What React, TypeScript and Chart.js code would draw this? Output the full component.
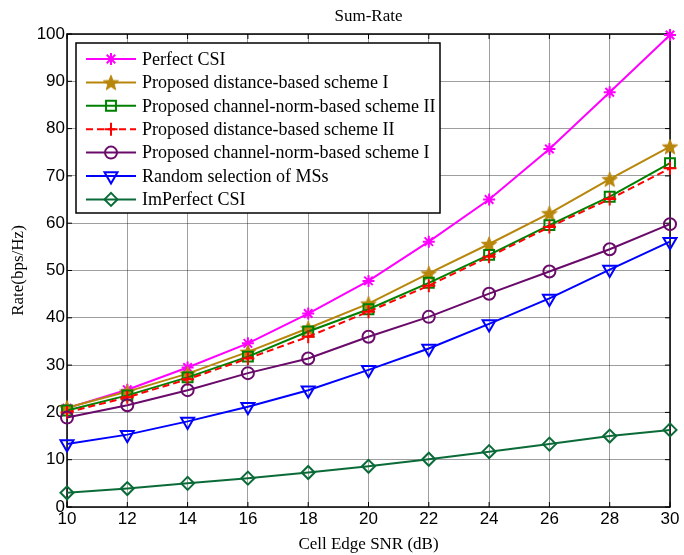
import React, { useEffect, useRef } from 'react';
import { Chart, registerables } from 'chart.js';
import { drawPoint } from 'chart.js/helpers';
Chart.register(...registerables);

const snr = [10, 12, 14, 16, 18, 20, 22, 24, 26, 28, 30];
const perfectCSI = [20.9, 24.8, 29.5, 34.6, 40.9, 47.8, 56.1, 65.0, 75.7, 87.7, 99.8];
const distSchemeI = [21.0, 24.4, 28.2, 32.8, 37.8, 43.0, 49.4, 55.6, 62.1, 69.3, 76.2];
const normSchemeII = [20.4, 23.6, 27.4, 31.8, 37.1, 41.8, 47.4, 53.3, 59.6, 65.6, 72.7];
const distSchemeII = [20.0, 23.2, 27.0, 31.4, 36.0, 41.3, 46.8, 52.9, 59.2, 65.1, 71.6];
const normSchemeI = [18.9, 21.5, 24.7, 28.3, 31.4, 36.0, 40.2, 45.1, 49.8, 54.5, 59.8];
const randomMS = [13.3, 15.3, 18.1, 21.2, 24.7, 29.0, 33.5, 38.7, 44.1, 50.2, 56.1];
const imperfectCSI = [3.0, 3.9, 5.0, 6.1, 7.3, 8.6, 10.1, 11.7, 13.3, 15.0, 16.3];

const seriesLabels = [
  'Perfect CSI',
  'Proposed distance-based scheme I',
  'Proposed channel-norm-based scheme II',
  'Proposed distance-based scheme II',
  'Proposed channel-norm-based scheme I',
  'Random selection of MSs',
  'ImPerfect CSI',
];
const chartTitle = 'Sum-Rate';
const xTitle = 'Cell Edge SNR (dB)';
const yTitle = 'Rate(bps/Hz)';

const SERIF = "'Liberation Serif', 'Times New Roman', serif";
const SANS = "'Liberation Sans', Arial, sans-serif";

function makePentagram(color: string, r: number): HTMLCanvasElement {
  const c = document.createElement('canvas');
  const s = Math.ceil(r * 2 + 2);
  c.width = s;
  c.height = s;
  const g = c.getContext('2d')!;
  const cx = s / 2, cy = s / 2 + 0.8;
  const inner = r * 0.42;
  g.beginPath();
  for (let i = 0; i < 10; i++) {
    const rad = i % 2 === 0 ? r : inner;
    const a = -Math.PI / 2 + (i * Math.PI) / 5;
    const px = cx + rad * Math.cos(a);
    const py = cy + rad * Math.sin(a);
    if (i === 0) g.moveTo(px, py); else g.lineTo(px, py);
  }
  g.closePath();
  g.fillStyle = color;
  g.fill();
  g.strokeStyle = color;
  g.lineWidth = 1;
  g.stroke();
  return c;
}

export default function App() {
  const ref = useRef<HTMLCanvasElement | null>(null);
  useEffect(() => {
    const canvas = ref.current!;
    const gold = '#B8860B';
    const star = makePentagram(gold, 8);
    const values = [perfectCSI, distSchemeI, normSchemeII, distSchemeII, normSchemeI, randomMS, imperfectCSI];
    const styles: any[] = [
      { color: '#FF00FF', pointStyle: 'star', radius: 6, rot: 0, dash: [] },
      { color: gold, pointStyle: star, radius: 8, rot: 0, dash: [] },
      { color: '#008000', pointStyle: 'rect', radius: 7, rot: 0, dash: [] },
      { color: '#FF0000', pointStyle: 'cross', radius: 6.5, rot: 0, dash: [7, 4] },
      { color: '#6A0A6A', pointStyle: 'circle', radius: 6, rot: 0, dash: [] },
      { color: '#0000FF', pointStyle: 'triangle', radius: 7.5, rot: 180, dash: [] },
      { color: '#0B6B38', pointStyle: 'rectRot', radius: 6.5, rot: 0, dash: [] },
    ];
    const datasets = values.map((arr, i) => ({
      label: seriesLabels[i],
      data: arr.map((v, j) => ({ x: snr[j], y: v })),
      borderColor: styles[i].color,
      backgroundColor: 'rgba(0,0,0,0)',
      borderWidth: 2,
      borderDash: styles[i].dash,
      pointStyle: styles[i].pointStyle,
      pointRadius: styles[i].radius,
      pointRotation: styles[i].rot,
      pointBorderColor: styles[i].color,
      pointBackgroundColor: 'rgba(0,0,0,0)',
      pointBorderWidth: 2,
      tension: 0,
      clip: false as any,
      order: 10 - i,
    }));

    const framePlugin = {
      id: 'frame',
      beforeDatasetsDraw(chart: any) {
        const { ctx, chartArea: a } = chart;
        ctx.save();
        ctx.strokeStyle = '#000';
        ctx.lineWidth = 1.5;
        ctx.strokeRect(a.left, a.top, a.right - a.left, a.bottom - a.top);
        // inward tick marks
        ctx.lineWidth = 1;
        const xs = chart.scales.x, ys = chart.scales.y;
        xs.ticks.forEach((t: any) => {
          const px = xs.getPixelForValue(t.value);
          ctx.beginPath();
          ctx.moveTo(px, a.bottom); ctx.lineTo(px, a.bottom - 5);
          ctx.moveTo(px, a.top); ctx.lineTo(px, a.top + 5);
          ctx.stroke();
        });
        ys.ticks.forEach((t: any) => {
          const py = ys.getPixelForValue(t.value);
          ctx.beginPath();
          ctx.moveTo(a.left, py); ctx.lineTo(a.left + 5, py);
          ctx.moveTo(a.right, py); ctx.lineTo(a.right - 5, py);
          ctx.stroke();
        });
        ctx.restore();
      },
      afterDraw(chart: any) {
        const { ctx, chartArea: a } = chart;
        ctx.save();
        ctx.fillStyle = '#000';
        ctx.font = `17px ${SERIF}`;
        ctx.textAlign = 'center';
        ctx.textBaseline = 'middle';
        ctx.fillText(chartTitle, (a.left + a.right) / 2, 17);
        // legend box
        const x0 = 76, y0 = 43, w = 364, h = 170;
        ctx.fillStyle = '#fff';
        ctx.fillRect(x0, y0, w, h);
        ctx.strokeStyle = '#000';
        ctx.lineWidth = 1.5;
        ctx.strokeRect(x0, y0, w, h);
        chart.data.datasets.forEach((ds: any, i: number) => {
          const y = 59 + i * 23.4;
          ctx.save();
          ctx.beginPath();
          ctx.setLineDash(ds.borderDash || []);
          ctx.strokeStyle = ds.borderColor;
          ctx.lineWidth = ds.borderWidth;
          ctx.moveTo(86, y);
          ctx.lineTo(136, y);
          ctx.stroke();
          ctx.setLineDash([]);
          ctx.strokeStyle = ds.pointBorderColor;
          ctx.fillStyle = ds.pointBackgroundColor;
          ctx.lineWidth = ds.pointBorderWidth;
          drawPoint(ctx, {
            pointStyle: ds.pointStyle,
            rotation: ds.pointRotation,
            radius: ds.pointRadius,
            borderWidth: ds.pointBorderWidth,
          } as any, 111, y);
          ctx.restore();
          ctx.fillStyle = '#000';
          ctx.font = `18px ${SERIF}`;
          ctx.textAlign = 'left';
          ctx.textBaseline = 'middle';
          ctx.fillText(ds.label, 142, y + 1);
        });
        ctx.restore();
      },
    };

    const chart = new Chart(canvas, {
      type: 'line',
      data: { datasets: datasets as any },
      options: {
        animation: false,
        responsive: false,
        devicePixelRatio: 1,
        layout: { padding: { top: 34, right: 14, left: 0, bottom: 0 } },
        plugins: { legend: { display: false }, title: { display: false }, tooltip: { enabled: false } },
        scales: {
          x: {
            type: 'linear',
            min: 10,
            max: 30,
            ticks: { stepSize: 2, color: '#000', font: { family: SANS, size: 17 }, padding: 2, maxRotation: 0 },
            grid: { color: 'rgba(0,0,0,0.38)', lineWidth: 1, drawTicks: false },
            border: { display: false },
            title: { display: true, text: xTitle, color: '#000', font: { family: SERIF, size: 17 }, padding: { top: 0, bottom: 0 } },
            afterFit: (s: any) => { s.height = 48; },
          },
          y: {
            min: 0,
            max: 100,
            ticks: { stepSize: 10, color: '#000', font: { family: SANS, size: 17 }, padding: 2 },
            grid: { color: 'rgba(0,0,0,0.38)', lineWidth: 1, drawTicks: false },
            border: { display: false },
            title: { display: true, text: yTitle, color: '#000', font: { family: SERIF, size: 17 }, padding: { top: 8, bottom: 0 } },
            afterFit: (s: any) => { s.width = 67; },
          },
        },
      },
      plugins: [framePlugin],
    });
    return () => chart.destroy();
  }, []);
  return (
    <div style={{ position: 'absolute', left: 0, top: 0, width: 684, height: 555, background: '#fff' }}>
      <canvas ref={ref} width={684} height={555} style={{ width: 684, height: 555, display: 'block' }} />
    </div>
  );
}
